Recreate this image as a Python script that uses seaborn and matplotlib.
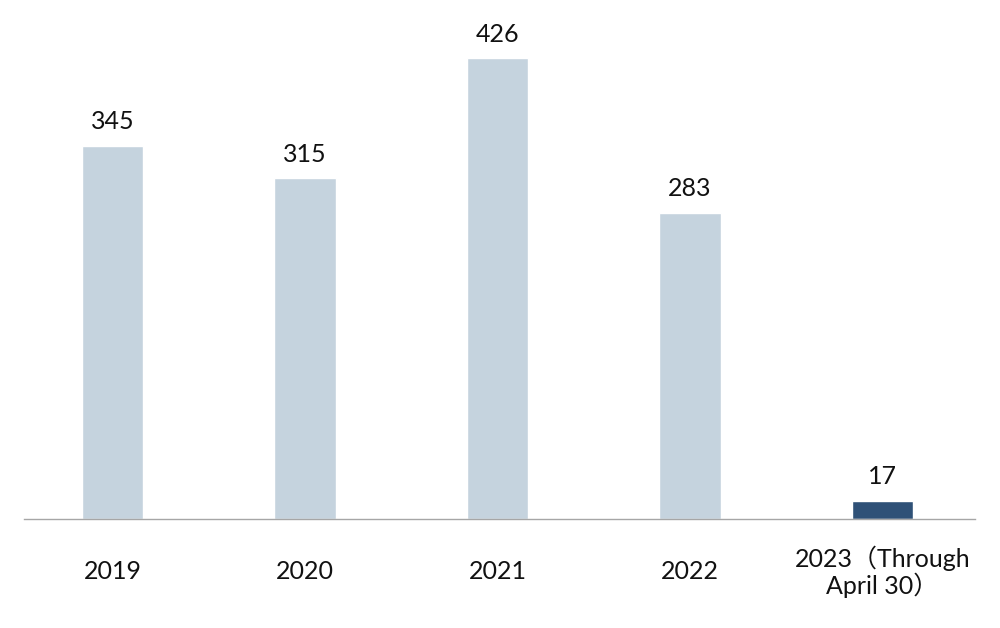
import matplotlib
matplotlib.use("Agg")
import matplotlib.pyplot as plt
import seaborn as sns

years = ["2019", "2020", "2021", "2022", "2023（Through\nApril 30）"]
counts = [345, 315, 426, 283, 17]
bar_colors = ["#c5d3de", "#c5d3de", "#c5d3de", "#c5d3de", "#2f5177"]


def main():
    sns.set_style("white")
    plt.rcParams["font.family"] = ["Lato", "Noto Sans CJK SC", "DejaVu Sans"]

    fig = plt.figure(figsize=(10, 6.28), dpi=100)
    ax = fig.add_axes([0.024, 0.1736, 0.951, 0.8264])

    sns.barplot(x=years, y=counts, hue=years, palette=bar_colors, width=0.32,
                legend=False, ax=ax, saturation=1)

    for i, v in enumerate(counts):
        ax.annotate(str(v), (i, v), xytext=(0, 9), textcoords="offset points",
                    ha="center", va="bottom", fontsize=18, color="#111111")

    ax.set_xlim(-0.46, 4.48)
    ax.set_ylim(0, 480)
    ax.set_yticks([])
    ax.set_xlabel("")
    ax.set_ylabel("")
    for side in ["top", "left", "right"]:
        ax.spines[side].set_visible(False)
    ax.spines["bottom"].set_color("#a6a6a6")
    ax.spines["bottom"].set_linewidth(1)
    ax.tick_params(axis="x", length=0, pad=38, labelsize=18, labelcolor="#111111")
    for lbl in ax.get_xticklabels():
        lbl.set_va("center")
        lbl.set_linespacing(1.1)

    fig.savefig("out.png", dpi=100)


if __name__ == "__main__":
    main()
